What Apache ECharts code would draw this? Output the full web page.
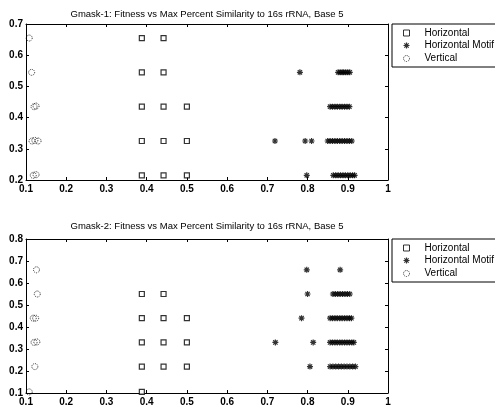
<!DOCTYPE html>
<html>
<head>
<meta charset="utf-8">
<script src="https://cdn.jsdelivr.net/npm/echarts@6/dist/echarts.min.js"></script>
<style>
  html, body { margin: 0; padding: 0; background: #fff; }
  #chart { width: 495px; height: 407px; }
</style>
</head>
<body>
<div id="chart"></div>
<script>
// Titles and legend names
const titles = [
  'Gmask-1: Fitness vs Max Percent Similarity to 16s rRNA, Base 5',
  'Gmask-2: Fitness vs Max Percent Similarity to 16s rRNA, Base 5'
]
const seriesNames = ['Horizontal', 'Horizontal Motif', 'Vertical']

// Axis ranges
const xRange = [0.1, 1]
const yRangeTop = [0.2, 0.7]
const yRangeBottom = [0.1, 0.8]

// Gmask-1 data [maxPercentSimilarity, fitness]
const horizontal1 = [
  [0.388, 0.655], [0.442, 0.655],
  [0.388, 0.545], [0.442, 0.545],
  [0.388, 0.435], [0.442, 0.435], [0.500, 0.435],
  [0.388, 0.325], [0.442, 0.325], [0.500, 0.325],
  [0.388, 0.215], [0.442, 0.215], [0.500, 0.215]
]
const motif1 = [
  [0.781, 0.545], [0.876, 0.545], [0.881, 0.545], [0.886, 0.545], [0.890, 0.545], [0.895, 0.545], [0.900, 0.545], [0.905, 0.545],
  [0.856, 0.435], [0.862, 0.435], [0.868, 0.435], [0.874, 0.435], [0.880, 0.435], [0.886, 0.435], [0.892, 0.435], [0.898, 0.435], [0.904, 0.435],
  [0.719, 0.325], [0.794, 0.325], [0.810, 0.325], [0.850, 0.325], [0.856, 0.325], [0.862, 0.325], [0.868, 0.325], [0.874, 0.325],
  [0.880, 0.325], [0.886, 0.325], [0.892, 0.325], [0.898, 0.325], [0.904, 0.325], [0.910, 0.325],
  [0.798, 0.215], [0.864, 0.215], [0.870, 0.215], [0.876, 0.215], [0.882, 0.215], [0.888, 0.215], [0.894, 0.215], [0.900, 0.215],
  [0.906, 0.215], [0.912, 0.215], [0.917, 0.215]
]
const vertical1 = [
  [0.108, 0.655], [0.114, 0.545], [0.120, 0.435], [0.125, 0.437],
  [0.115, 0.325], [0.122, 0.327], [0.130, 0.325], [0.118, 0.215], [0.125, 0.217]
]

// Gmask-2 data
const horizontal2 = [
  [0.388, 0.55], [0.442, 0.55],
  [0.388, 0.44], [0.442, 0.44], [0.500, 0.44],
  [0.388, 0.33], [0.442, 0.33], [0.500, 0.33],
  [0.388, 0.22], [0.442, 0.22], [0.500, 0.22],
  [0.388, 0.105]
]
const motif2 = [
  [0.798, 0.66], [0.881, 0.66],
  [0.800, 0.55], [0.863, 0.55], [0.869, 0.55], [0.875, 0.55], [0.881, 0.55], [0.887, 0.55], [0.893, 0.55], [0.899, 0.55], [0.905, 0.55],
  [0.785, 0.44], [0.856, 0.44], [0.862, 0.44], [0.868, 0.44], [0.874, 0.44], [0.880, 0.44], [0.886, 0.44], [0.892, 0.44], [0.898, 0.44], [0.904, 0.44], [0.909, 0.44],
  [0.720, 0.33], [0.814, 0.33], [0.856, 0.33], [0.862, 0.33], [0.868, 0.33], [0.874, 0.33], [0.880, 0.33], [0.886, 0.33], [0.892, 0.33],
  [0.898, 0.33], [0.904, 0.33], [0.910, 0.33], [0.915, 0.33],
  [0.806, 0.22], [0.856, 0.22], [0.863, 0.22], [0.870, 0.22], [0.877, 0.22], [0.884, 0.22], [0.891, 0.22], [0.898, 0.22], [0.905, 0.22],
  [0.912, 0.22], [0.919, 0.22]
]
const vertical2 = [
  [0.126, 0.66], [0.128, 0.55], [0.118, 0.44], [0.124, 0.44],
  [0.120, 0.33], [0.127, 0.332], [0.122, 0.22], [0.108, 0.105]
]

const asterisk = 'path://M0,-5L0,5M-5,0L5,0M-3.6,-3.6L3.6,3.6M-3.6,3.6L3.6,-3.6'
const font = 'Arial, "Liberation Sans", sans-serif'

const chart = echarts.init(document.getElementById('chart'))

const grids = [
  { left: 26, top: 24, width: 362, height: 156 },
  { left: 26, top: 239, width: 362, height: 154 }
]

function xAxes(gi) {
  const base = {
    type: 'value', gridIndex: gi, min: xRange[0], max: xRange[1], interval: 0.1,
    axisLine: { show: true, lineStyle: { color: '#000', width: 1 } },
    axisTick: { show: true, inside: true, length: 3, lineStyle: { color: '#000' } },
    splitLine: { show: false }
  }
  return [
    Object.assign({}, base, {
      position: 'bottom',
      axisLabel: { color: '#000', fontSize: 10, fontWeight: 'bold', fontFamily: font, margin: 4,
        formatter: v => String(Math.round(v * 10) / 10) }
    }),
    Object.assign({}, base, { position: 'top', axisLabel: { show: false } })
  ]
}

function yAxes(gi, range) {
  const base = {
    type: 'value', gridIndex: gi, min: range[0], max: range[1], interval: 0.1,
    axisLine: { show: true, lineStyle: { color: '#000', width: 1 } },
    axisTick: { show: true, inside: true, length: 3, lineStyle: { color: '#000' } },
    splitLine: { show: false }
  }
  return [
    Object.assign({}, base, {
      position: 'left',
      axisLabel: { color: '#000', fontSize: 10, fontWeight: 'bold', fontFamily: font, margin: 3,
        formatter: v => String(Math.round(v * 10) / 10) }
    }),
    Object.assign({}, base, { position: 'right', axisLabel: { show: false } })
  ]
}

function panelSeries(gi, h, m, v) {
  const axisIdx = gi * 2
  return [
    {
      name: seriesNames[0], type: 'scatter', xAxisIndex: axisIdx, yAxisIndex: axisIdx,
      data: h, symbol: 'rect', symbolSize: 5,
      itemStyle: { color: '#fff', borderColor: '#000', borderWidth: 1.2 }
    },
    {
      name: seriesNames[1], type: 'scatter', xAxisIndex: axisIdx, yAxisIndex: axisIdx,
      data: m, symbol: asterisk, symbolSize: 6,
      itemStyle: { color: 'none', borderColor: '#000', borderWidth: 1.2 }
    },
    {
      name: seriesNames[2], type: 'scatter', xAxisIndex: axisIdx, yAxisIndex: axisIdx,
      data: v, symbol: 'circle', symbolSize: 6,
      itemStyle: { color: 'none', borderColor: '#000', borderWidth: 1, borderType: 'dotted' }
    }
  ]
}

function legend(top) {
  return {
    data: [
      { name: seriesNames[0], icon: 'rect', itemStyle: { color: '#fff', borderColor: '#000', borderWidth: 1 } },
      { name: seriesNames[1], icon: asterisk, itemStyle: { color: 'none', borderColor: '#000', borderWidth: 1.2 } },
      { name: seriesNames[2], icon: 'circle', itemStyle: { color: 'none', borderColor: '#000', borderWidth: 1, borderType: 'dotted' } }
    ],
    left: 392, top: top, orient: 'vertical',
    itemWidth: 6, itemHeight: 6, itemGap: 2,
    padding: [4, 40, 3, 9],
    backgroundColor: '#fff',
    borderColor: '#000', borderWidth: 1, borderRadius: 0,
    textStyle: { color: '#000', fontSize: 10, fontFamily: font, padding: [0, 0, 0, 10] },
    selectedMode: false
  }
}

chart.setOption({
  animation: false,
  backgroundColor: '#fff',
  title: [
    { text: titles[0], left: 207, top: 9, textAlign: 'center', padding: 0,
      textStyle: { fontSize: 9.5, fontWeight: 'normal', color: '#000', fontFamily: font } },
    { text: titles[1], left: 207, top: 221, textAlign: 'center', padding: 0,
      textStyle: { fontSize: 9.5, fontWeight: 'normal', color: '#000', fontFamily: font } }
  ],
  legend: [legend(24), legend(239)],
  grid: grids,
  xAxis: [...xAxes(0), ...xAxes(1)],
  yAxis: [...yAxes(0, yRangeTop), ...yAxes(1, yRangeBottom)],
  series: [
    ...panelSeries(0, horizontal1, motif1, vertical1),
    ...panelSeries(1, horizontal2, motif2, vertical2)
  ]
})
</script>
</body>
</html>
